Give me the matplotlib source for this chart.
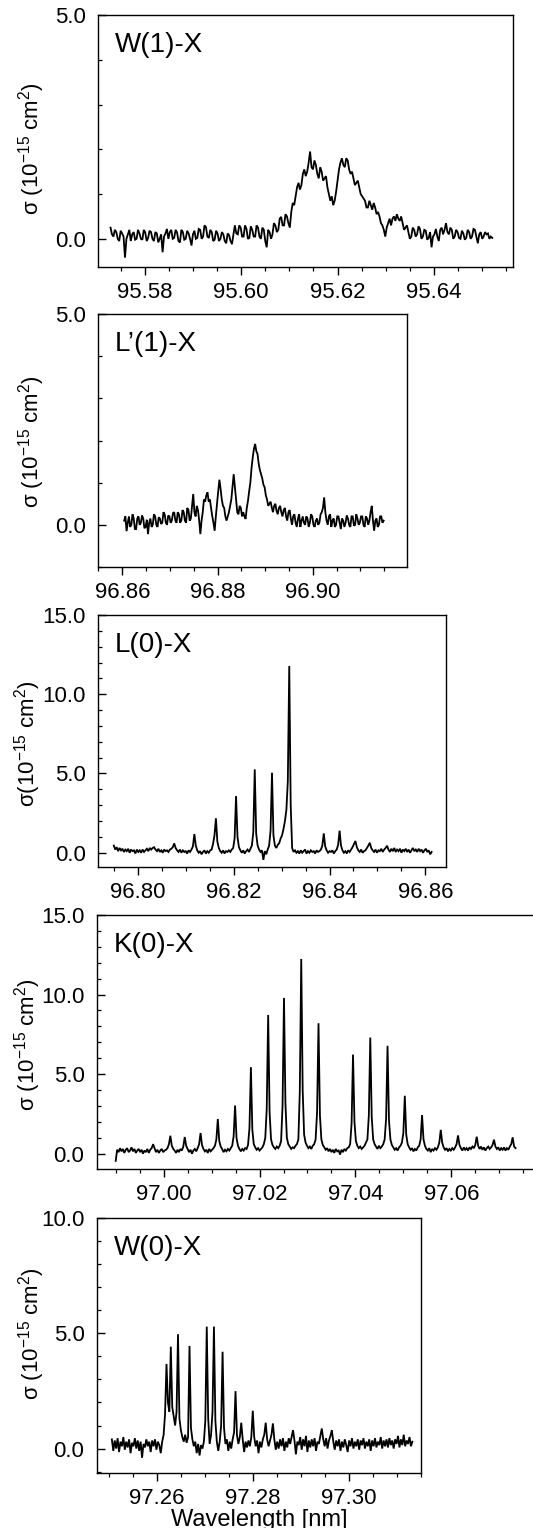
import numpy as np
import matplotlib
matplotlib.use("Agg")
import matplotlib.pyplot as plt
from matplotlib.ticker import MultipleLocator, FormatStrFormatter

plt.rcParams['font.family'] = ['Liberation Sans', 'DejaVu Sans']
plt.rcParams['mathtext.fontset'] = 'custom'
plt.rcParams['mathtext.rm'] = 'Liberation Sans'
plt.rcParams['mathtext.it'] = 'Liberation Sans:italic'
plt.rcParams['mathtext.bf'] = 'Liberation Sans:bold'

# ---------------- data ----------------
# Each spectrum: start wavelength (nm), sampling step (nm), sigma values (1e-15 cm^2)
W1_LABEL = "W(1)-X"
W1_START, W1_STEP = 95.5729, 0.0003
W1_SIGMA = [
    0.25, 0.1, 0.05, 0.2, 0.15, 0.0, -0.05, 0.18, 0.12, 0.05, -0.42, 0.0, 0.1, 0.2, -0.05, 0.1, 0.15, -0.02, 0.0, 0.2,
    0.12, 0.0, -0.02, 0.2, 0.14, -0.05, 0.02, 0.18, 0.15, 0.0, -0.05, 0.15, 0.12, -0.08, 0.0, 0.1, -0.3, 0.05, 0.12, 0.22,
    0.0, 0.15, 0.2, 0.0, 0.02, 0.2, 0.14, -0.05, -0.08, 0.2, 0.15, -0.02, 0.0, 0.18, 0.12, 0.0, -0.15, 0.1, 0.18, 0.0,
    0.02, 0.22, 0.2, 0.0, 0.05, 0.3, 0.26, 0.05, 0.02, 0.2, 0.15, -0.05, -0.02, 0.18, 0.12, -0.05, 0.0, 0.15, 0.1, -0.05,
    -0.1, 0.12, 0.08, -0.05, -0.12, 0.1, 0.3, 0.12, 0.1, 0.3, 0.25, 0.05, 0.05, 0.3, 0.22, 0.0, 0.02, 0.28, 0.2, 0.05,
    0.05, 0.3, 0.25, 0.05, 0.0, 0.25, 0.2, -0.05, -0.19, 0.2, 0.15, 0.0, 0.1, 0.35, 0.3, 0.15, 0.2, 0.45, 0.49, 0.3,
    0.3, 0.55, 0.5, 0.35, 0.25, 0.6, 0.8, 0.75, 0.95, 1.15, 1.25, 1.1, 1.2, 1.45, 1.55, 1.4, 1.5, 1.7, 1.95, 1.6,
    1.55, 1.75, 1.65, 1.45, 1.35, 1.6, 1.5, 1.3, 1.35, 1.4, 1.15, 1.0, 0.85, 0.95, 0.75, 0.85, 1.05, 1.3, 1.55, 1.7,
    1.8, 1.65, 1.6, 1.8, 1.75, 1.55, 1.45, 1.5, 1.35, 1.2, 1.25, 1.3, 1.15, 1.0, 0.95, 0.9, 0.85, 0.7, 0.7, 0.85,
    0.75, 0.65, 0.8, 0.7, 0.55, 0.6, 0.5, 0.35, 0.3, 0.2, 0.05, 0.25, 0.35, 0.45, 0.3, 0.45, 0.5, 0.4, 0.55, 0.45,
    0.4, 0.5, 0.35, 0.2, 0.25, 0.3, 0.15, 0.0, 0.05, 0.25, 0.2, 0.05, 0.1, 0.28, 0.22, 0.0, 0.05, 0.2, 0.18, -0.02,
    0.02, 0.15, -0.19, 0.05, 0.1, 0.22, 0.05, -0.05, 0.2, 0.25, 0.1, 0.2, 0.35, 0.15, 0.1, 0.25, 0.2, 0.0, 0.05, 0.2,
    0.15, 0.02, 0.0, 0.18, 0.12, -0.02, 0.02, 0.2, 0.15, 0.0, 0.05, 0.22, 0.2, 0.05, -0.1, 0.1, 0.15, 0.0, 0.05, 0.15,
    0.1, 0.12, 0.0, 0.05, 0.02,
]

L1_LABEL = "L\u2019(1)-X"
L1_START, L1_STEP = 96.8604, 0.00025
L1_SIGMA = [
    0.1, 0.2, -0.15, 0.05, 0.2, -0.05, 0.0, 0.25, 0.15, -0.1, -0.1, 0.15, 0.2, 0.0, 0.05, 0.22, 0.15, -0.08, -0.05, 0.12,
    -0.22, 0.05, 0.15, -0.05, 0.0, 0.25, 0.2, 0.0, -0.05, 0.18, 0.15, 0.02, 0.05, 0.3, 0.25, 0.05, 0.0, 0.22, 0.2, 0.05,
    0.1, 0.28, 0.3, 0.1, 0.05, 0.3, 0.25, 0.05, 0.1, 0.35, 0.3, 0.1, 0.05, 0.4, 0.35, 0.1, 0.15, 0.45, 0.73, 0.3,
    0.2, 0.45, 0.35, 0.1, -0.22, 0.1, 0.3, 0.6, 0.55, 0.7, 0.77, 0.55, 0.6, 0.4, 0.2, 0.05, -0.14, 0.2, 0.5, 0.8,
    1.07, 0.85, 0.6, 0.45, 0.4, 0.2, 0.1, 0.2, 0.3, 0.45, 0.6, 0.9, 1.2, 0.9, 0.6, 0.3, 0.25, 0.45, 0.4, 0.2,
    0.3, 0.2, 0.14, 0.4, 0.57, 0.8, 1.0, 1.35, 1.6, 1.8, 1.92, 1.75, 1.68, 1.45, 1.3, 1.2, 1.1, 0.95, 0.89, 0.7,
    0.6, 0.45, 0.5, 0.55, 0.41, 0.3, 0.45, 0.5, 0.33, 0.25, 0.4, 0.45, 0.3, 0.2, 0.35, 0.4, 0.2, 0.1, 0.3, 0.35,
    0.15, 0.0, 0.2, 0.25, 0.05, -0.05, 0.15, 0.25, -0.05, 0.1, 0.2, 0.05, 0.0, 0.2, 0.15, -0.05, 0.05, 0.25, 0.2, 0.0,
    -0.05, 0.1, 0.15, 0.0, 0.05, 0.25, 0.3, 0.4, 0.65, 0.3, 0.1, 0.0, 0.2, 0.25, -0.05, 0.1, 0.15, -0.05, 0.0, 0.2,
    0.2, 0.05, -0.1, 0.15, 0.1, -0.05, 0.05, 0.22, 0.15, 0.0, -0.05, 0.2, 0.2, -0.02, 0.0, 0.25, 0.15, 0.0, 0.05, 0.2,
    0.2, 0.0, -0.05, 0.2, 0.15, 0.0, 0.1, 0.3, 0.45, 0.1, -0.14, 0.1, 0.15, -0.05, 0.0, 0.2, 0.2, 0.05, 0.1,
]

L0_LABEL = "L(0)-X"
L0_START, L0_STEP = 96.7950, 0.0003
L0_SIGMA = [
    0.45, 0.2, 0.35, 0.1, 0.3, 0.15, 0.25, 0.05, 0.2, 0.1,
    0.25, 0.0, 0.2, 0.1, 0.15, -0.05, 0.2, 0.05, 0.15, 0.0,
    0.2, 0.05, 0.15, 0.25, 0.1, 0.3, 0.2, 0.3, 0.35, 0.2,
    0.1, 0.25, 0.05, 0.15, 0.0, 0.2, 0.1, 0.15, 0.05, 0.2,
    0.25, 0.35, 0.59, 0.3, 0.15, 0.05, 0.2, 0.0, 0.15, 0.05,
    0.1, -0.05, 0.15, 0.05, 0.2, 0.4, 1.18, 0.45, 0.15, 0.0,
    0.1, -0.1, 0.05, 0.15, -0.05, 0.1, 0.0, 0.15, 0.2, 0.55,
    1.1, 2.17, 0.7, 0.3, 0.1, 0.0, 0.15, -0.05, 0.1, 0.05,
    0.15, 0.05, 0.2, 0.3, 0.9, 3.58, 1.0, 0.35, 0.15, 0.0,
    0.15, -0.05, 0.1, 0.2, 0.05, 0.25, 0.45, 1.3, 5.26, 1.2,
    0.45, 0.2, 0.05, 0.15, -0.45, 0.1, -0.1, 0.2, 0.45, 1.4,
    5.05, 1.1, 0.45, 0.3, 0.5, 0.6, 0.9, 1.1, 1.5, 2.0,
    2.7, 4.5, 11.78, 3.0, 0.3, 0.05, 0.15, 0.0, 0.1, -0.05,
    0.15, 0.0, 0.1, 0.2, -0.05, 0.1, 0.0, 0.15, 0.05, 0.1,
    -0.05, 0.15, 0.05, 0.1, 0.2, 0.45, 1.22, 0.4, 0.15, 0.0,
    0.1, 0.05, 0.15, -0.05, 0.1, 0.2, 0.5, 1.39, 0.45, 0.15,
    0.0, 0.1, -0.05, 0.15, 0.05, 0.2, 0.35, 0.55, 0.74, 0.35,
    0.15, 0.05, 0.2, 0.0, 0.1, 0.15, 0.3, 0.45, 0.63, 0.3,
    0.15, 0.05, 0.2, 0.0, 0.15, 0.1, 0.25, 0.05, 0.2, 0.3,
    0.44, 0.2, 0.05, 0.25, 0.1, 0.3, 0.05, 0.2, 0.1, 0.25,
    0.0, 0.2, 0.1, 0.25, 0.05, 0.2, 0.0, 0.15, 0.3, 0.1,
    0.2, 0.05, 0.25, 0.1, 0.2, 0.0, 0.15, 0.25, 0.05, 0.15,
    -0.1, 0.05,
]

K0_LABEL = "K(0)-X"
K0_START, K0_STEP = 96.9900, 0.0003
K0_SIGMA = [
    -0.45, 0.25, 0.1, 0.35, 0.15, 0.3, 0.05, 0.25, 0.35, 0.1,
    0.2, 0.4, 0.15, 0.3, 0.05, 0.2, 0.3, 0.1, 0.25, 0.0,
    0.2, 0.1, 0.3, 0.05, 0.25, 0.35, 0.6, 0.35, 0.1, 0.25,
    0.05, 0.2, 0.3, 0.1, 0.2, 0.25, 0.35, 0.6, 1.13, 0.5,
    0.3, 0.2, 0.05, 0.25, 0.1, 0.3, 0.2, 0.45, 1.05, 0.5,
    0.3, 0.1, 0.25, 0.0, 0.2, 0.3, 0.15, 0.35, 0.6, 1.3,
    0.55, 0.3, 0.15, 0.25, 0.05, 0.3, 0.15, 0.25, 0.35, 0.5,
    0.9, 2.18, 0.8, 0.45, 0.3, 0.1, 0.25, 0.15, 0.3, 0.2,
    0.35, 0.5, 1.1, 3.03, 1.0, 0.5, 0.3, 0.15, 0.3, 0.2,
    0.35, 0.3, 0.55, 1.6, 5.44, 1.5, 0.6, 0.4, 0.25, 0.35,
    0.2, 0.3, 0.4, 0.6, 1.0, 2.8, 8.72, 2.6, 0.9, 0.55,
    0.4, 0.3, 0.45, 0.35, 0.5, 0.8, 3.0, 9.79, 3.2, 1.0,
    0.6, 0.45, 0.3, 0.4, 0.35, 0.5, 0.6, 0.9, 3.9, 12.24,
    4.0, 1.2, 0.7, 0.5, 0.35, 0.45, 0.3, 0.5, 0.6, 0.9,
    2.6, 8.2, 2.4, 0.9, 0.55, 0.4, 0.25, 0.35, 0.15, 0.3,
    0.1, 0.25, 0.05, 0.3, 0.15, 0.2, -0.05, 0.25, 0.1, 0.3,
    0.2, 0.35, 0.4, 0.6, 1.9, 6.23, 2.0, 0.8, 0.5, 0.35,
    0.45, 0.3, 0.4, 0.5, 0.7, 0.9, 2.4, 7.3, 2.3, 0.9,
    0.6, 0.45, 0.3, 0.5, 0.35, 0.45, 0.6, 0.9, 2.2, 6.78,
    2.1, 0.9, 0.55, 0.4, 0.25, 0.35, 0.2, 0.4, 0.5, 0.7,
    1.3, 3.64, 1.2, 0.6, 0.4, 0.25, 0.35, 0.15, 0.3, 0.2,
    0.4, 0.5, 0.9, 2.43, 0.9, 0.5, 0.3, 0.2, 0.35, 0.1,
    0.3, 0.2, 0.35, 0.25, 0.4, 0.7, 1.5, 0.7, 0.4, 0.25,
    0.35, 0.15, 0.3, 0.2, 0.35, 0.25, 0.4, 0.6, 1.15, 0.55,
    0.35, 0.2, 0.4, 0.25, 0.35, 0.2, 0.4, 0.3, 0.45, 0.35,
    0.55, 1.07, 0.5, 0.3, 0.45, 0.25, 0.4, 0.2, 0.35, 0.45,
    0.3, 0.4, 0.55, 0.88, 0.45, 0.3, 0.4, 0.2, 0.35, 0.25,
    0.4, 0.2, 0.35, 0.25, 0.45, 0.6, 1.03, 0.45, 0.35,
]

W0_LABEL = "W(0)-X"
W0_START, W0_STEP = 97.2506, 0.0003
W0_SIGMA = [
    0.4, -0.1, 0.35, 0.0, 0.45, -0.15, 0.3, 0.1, 0.5, -0.05,
    0.3, 0.05, 0.4, -0.2, 0.25, 0.1, 0.45, 0.0, 0.35, -0.1,
    0.3, -0.4, 0.2, 0.05, 0.4, 0.1, 0.3, -0.15, 0.35, 0.1,
    0.4, -0.05, 0.3, 0.15, -0.2, 0.3, 0.6, 1.5, 3.67, 2.0,
    1.6, 4.42, 1.8, 1.4, 1.0, 1.6, 4.96, 1.3, 0.8, 0.5,
    0.3, 0.6, 0.25, 0.5, 4.45, 0.9, 0.4, 0.1, 0.3, -0.2,
    0.2, -0.3, 0.15, 0.0, 0.3, 1.2, 5.29, 1.3, 0.2, 0.6,
    1.6, 5.29, 1.2, 0.3, -0.1, 0.3, 1.0, 4.2, 0.9, 0.2,
    0.4, -0.1, 0.3, 0.0, 0.4, 0.7, 2.49, 0.6, 0.2, 0.5,
    1.12, 0.4, -0.15, 0.3, 0.05, 0.35, 0.1, 0.5, 1.64, 0.5,
    0.1, 0.35, -0.2, 0.3, 0.05, 0.4, 0.6, 1.12, 0.4, 0.1,
    0.35, 0.6, 1.09, 0.4, -0.05, 0.3, 0.0, 0.4, 0.1, 0.45,
    -0.1, 0.3, 0.05, 0.45, 0.2, 0.5, 0.8, 0.35, -0.25, 0.3,
    0.15, 0.5, -0.05, 0.4, 0.1, 0.55, -0.15, 0.35, 0.05, 0.4,
    0.1, 0.45, -0.1, 0.3, 0.2, 0.55, 0.87, 0.4, 0.1, 0.45,
    0.0, 0.35, 0.55, 0.8, 0.3, -0.05, 0.35, 0.1, 0.4, -0.1,
    0.3, 0.05, 0.4, 0.15, -0.15, 0.35, 0.1, 0.45, 0.0, 0.3,
    0.1, 0.4, -0.05, 0.35, 0.15, 0.45, 0.0, 0.3, 0.1, 0.4,
    -0.1, 0.35, 0.1, 0.45, 0.05, 0.3, 0.15, 0.5, 0.0, 0.35,
    0.1, 0.4, 0.05, 0.45, 0.15, 0.35, 0.0, 0.4, 0.2, 0.55,
    0.05, 0.4, 0.15, 0.6, 0.1, 0.35, 0.2, 0.5, 0.1, 0.3,
]

Y_LABEL = "\u03c3 (10$^{-15}$ cm$^2$)"
Y_LABEL_TIGHT = "\u03c3(10$^{-15}$ cm$^2$)"
X_LABEL = "Wavelength [nm]"

# ---------------- layout ----------------
FIG_W, FIG_H = 533, 1528
DPI = 100
fig = plt.figure(figsize=(FIG_W / DPI, FIG_H / DPI), dpi=DPI)
fig.patch.set_facecolor("white")

# (label, start, step, values, ylabel, axes px box [l, t, r, b], xlim, ylim, ymajor, ylabel center px)
panels = [
    (W1_LABEL, W1_START, W1_STEP, W1_SIGMA, Y_LABEL, (98, 15, 513, 267),
     (95.5703, 95.6564), (-0.63, 5.0), 5.0, (32, 149)),
    (L1_LABEL, L1_START, L1_STEP, L1_SIGMA, Y_LABEL, (98, 314, 407, 567),
     (96.8549, 96.9198), (-1.0, 5.0), 5.0, (32, 442)),
    (L0_LABEL, L0_START, L0_STEP, L0_SIGMA, Y_LABEL_TIGHT, (98, 615, 446, 867),
     (96.7917, 96.8643), (-0.9, 15.0), 5.0, (28, 744)),
    (K0_LABEL, K0_START, K0_STEP, K0_SIGMA, Y_LABEL, (97, 915, 540, 1169),
     (96.9861, 97.0785), (-0.96, 15.0), 5.0, (28, 1045)),
    (W0_LABEL, W0_START, W0_STEP, W0_SIGMA, Y_LABEL, (97, 1218, 421, 1473),
     (97.2475, 97.3151), (-1.06, 10.0), 5.0, (32, 1334)),
]

for (label, start, step, vals, ylab, box, xlim, ylim, ymaj, ylc) in panels:
    l, t, r, b = box
    ax = fig.add_axes([l / FIG_W, 1 - b / FIG_H, (r - l) / FIG_W, (b - t) / FIG_H])
    vals = np.asarray(vals, dtype=float)
    wl = start + step * np.arange(len(vals))
    ax.plot(wl, vals, color="black", lw=1.3, solid_joinstyle="miter")
    ax.set_xlim(*xlim)
    ax.set_ylim(*ylim)
    for s in ax.spines.values():
        s.set_linewidth(1.0)
    ax.xaxis.set_major_locator(MultipleLocator(0.02))
    ax.xaxis.set_minor_locator(MultipleLocator(0.005))
    ax.xaxis.set_major_formatter(FormatStrFormatter("%.2f"))
    ax.yaxis.set_major_locator(MultipleLocator(ymaj))
    ax.yaxis.set_minor_locator(MultipleLocator(1.0))
    ax.yaxis.set_major_formatter(FormatStrFormatter("%.1f"))
    ax.tick_params(axis="x", which="major", direction="out", length=5.5, width=1.0,
                   labelsize=16, pad=5, top=False)
    ax.tick_params(axis="x", which="minor", direction="out", length=3, width=0.9, top=False)
    ax.tick_params(axis="y", which="major", direction="in", length=5.5, width=1.0,
                   labelsize=16, pad=9, right=False)
    ax.tick_params(axis="y", which="minor", direction="in", length=3, width=0.9, right=False)
    fig.text((l + 17) / FIG_W, 1 - (t + 37) / FIG_H, label, fontsize=20,
             ha="left", va="baseline")
    fig.text(ylc[0] / FIG_W, 1 - ylc[1] / FIG_H, ylab, fontsize=16, rotation=90,
             ha="center", va="center")

fig.text(259 / FIG_W, 1 - 1526 / FIG_H, X_LABEL, fontsize=17, ha="center", va="baseline")

fig.savefig("out.png", dpi=DPI, facecolor="white")
